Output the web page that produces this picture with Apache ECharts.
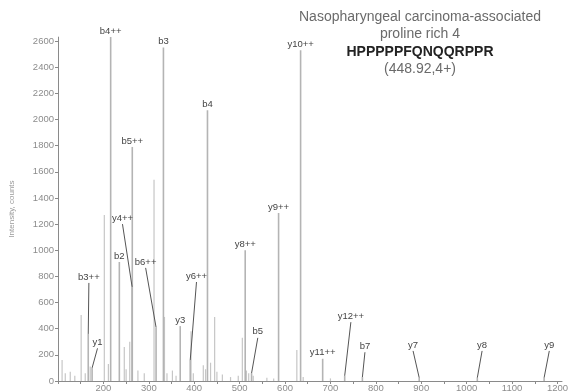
<!DOCTYPE html>
<html>
<head>
<meta charset="utf-8">
<script src="https://cdn.jsdelivr.net/npm/echarts@6/dist/echarts.min.js"></script>
<style>
  html, body { margin: 0; padding: 0; background: #fff; }
  #chart { width: 570px; height: 392px; }
</style>
</head>
<body>
<div id="chart"></div>
<script>
// Unassigned fragment peaks (m/z, intensity in counts)
const peakMz  = [109, 116, 127, 137, 151, 160, 171, 202, 211, 246, 250, 258, 276, 290,
                 311.5, 334.5, 340, 352, 360, 393, 398, 420, 425, 436, 445, 450, 462,
                 480, 497, 506, 515, 520, 530, 560, 575, 626, 640, 700];
const peakInt = [160, 60, 70, 40, 505, 60, 110, 1270, 130, 260, 90, 300, 80, 60,
                 1540, 490, 60, 80, 40, 380, 60, 120, 90, 140, 490, 70, 50,
                 30, 40, 330, 80, 60, 40, 25, 20, 237, 30, 20];

// Assigned b / y ions
const ionNames = ['b4++', 'b3', 'b5++', 'b4', 'y10++', 'y9++', 'y8++', 'b2', 'y3', 'y11++',
                  'b3++', 'y1', 'y4++', 'b6++', 'y6++', 'b5', 'y12++', 'b7', 'y7', 'y8', 'y9'];
const ionMz    = [216, 332.2, 263.6, 429.2, 634.3, 585.8, 512.3, 235.1, 369.2, 682.9,
                  166.6, 175.1, 263.2, 316, 391.2, 526.3, 731.4, 770.4, 895.5, 1023.5, 1170.6];
const ionInt   = [2630, 2550, 1790, 2070, 2530, 1285, 1000, 910, 420, 170,
                  360, 100, 720, 410, 160, 60, 40, 30, 25, 25, 25];
// Where a tag is pulled away from a crowded peak (null: tag sits right on the peak)
const tagMz    = [null, null, null, null, null, null, null, null, null, null,
                  168, 187, 242, 293, 405, 540, 745, 776, 882, 1034, 1182];
const tagInt   = [null, null, null, null, null, null, null, null, null, null,
                  750, 250, 1200, 865, 757, 330, 450, 220, 230, 230, 230];

// Axis tick values
const xTickLabels = [200, 300, 400, 500, 600, 700, 800, 900, 1000, 1100, 1200];
const xTickMarks  = [100, 150, 200, 250, 300, 350, 400, 450, 500, 550, 600, 650,
                     700, 750, 800, 850, 900, 950, 1000, 1050, 1100, 1150, 1200];
const yTickLabels = [0, 200, 400, 600, 800, 1000, 1200, 1400, 1600, 1800, 2000,
                     2200, 2400, 2600];

// Header text
const headerLines = ['Nasopharyngeal carcinoma-associated', 'proline rich 4',
                     'HPPPPPFQNQQRPPR', '(448.92,4+)'];

const FONT = '"Liberation Sans", Arial, Helvetica, sans-serif';

const peakData = peakMz.map((m, i) => [m, peakInt[i]]);
const ionData = ionNames.map((n, i) => [ionMz[i], ionInt[i], tagMz[i], tagInt[i], n]);

const chart = echarts.init(document.getElementById('chart'), null, { renderer: 'canvas' });

chart.setOption({
  animation: false,
  backgroundColor: '#fff',
  grid: { left: 58, right: 8, top: 37.1, bottom: 11, outerBoundsMode: 'none' },
  xAxis: {
    type: 'value', min: 100, max: 1210,
    axisLine: { show: true, lineStyle: { color: '#8a8a8a', width: 1 } },
    axisTick: { show: true, customValues: xTickMarks, length: 3, lineStyle: { color: '#8a8a8a' } },
    axisLabel: {
      customValues: xTickLabels, formatter: v => String(v),
      fontSize: 9.5, color: '#8c8c8c', margin: 2, fontFamily: FONT
    },
    splitLine: { show: false }
  },
  yAxis: {
    type: 'value', min: 0, max: 2630,
    name: 'Intensity, counts', nameLocation: 'middle', nameGap: 42,
    nameTextStyle: { fontSize: 8, color: '#9a9a9a', fontFamily: FONT },
    axisLine: { show: true, lineStyle: { color: '#8a8a8a', width: 1 } },
    axisTick: { show: true, customValues: yTickLabels, length: 3, lineStyle: { color: '#8a8a8a' } },
    axisLabel: {
      customValues: yTickLabels, formatter: v => String(v),
      fontSize: 9.5, color: '#8c8c8c', margin: 4, fontFamily: FONT
    },
    splitLine: { show: false }
  },
  graphic: headerLines.map((t, i) => ({
    type: 'text', x: 420, y: 17 + i * 17.5, silent: true,
    style: {
      text: t, align: 'center', verticalAlign: 'middle',
      font: (i === 2 ? 'bold ' : '') + '14px ' + FONT,
      fill: i === 2 ? '#222' : '#6a6a6a'
    }
  })),
  series: [
    {
      type: 'custom', name: 'peaks', data: peakData, encode: { x: 0, y: 1 },
      renderItem: (params, api) => {
        const base = api.coord([api.value(0), 0]);
        const top = api.coord([api.value(0), api.value(1)]);
        return {
          type: 'line',
          shape: { x1: base[0], y1: base[1], x2: top[0], y2: top[1] },
          style: { stroke: '#c6c6c6', lineWidth: 1.2 }
        };
      }
    },
    {
      type: 'custom', name: 'ions', data: ionData, encode: { x: 0, y: 1 },
      renderItem: (params, api) => {
        const d = ionData[params.dataIndex];
        const base = api.coord([d[0], 0]);
        const top = api.coord([d[0], d[1]]);
        const children = [{
          type: 'line',
          shape: { x1: base[0], y1: base[1], x2: top[0], y2: top[1] },
          style: { stroke: '#b4b4b4', lineWidth: 1.6 }
        }];
        let tx = top[0], ty = top[1] - 1;
        if (d[2] != null) {
          const anchor = api.coord([d[2], d[3]]);
          children.push({
            type: 'line',
            shape: { x1: anchor[0], y1: anchor[1], x2: top[0], y2: top[1] },
            style: { stroke: '#555', lineWidth: 1 }
          });
          tx = anchor[0]; ty = anchor[1] - 1;
        }
        children.push({
          type: 'text', x: tx, y: ty,
          style: {
            text: d[4], align: 'center', verticalAlign: 'bottom',
            font: '9.5px ' + FONT, fill: '#444'
          }
        });
        return { type: 'group', children };
      }
    }
  ]
});
</script>
</body>
</html>
